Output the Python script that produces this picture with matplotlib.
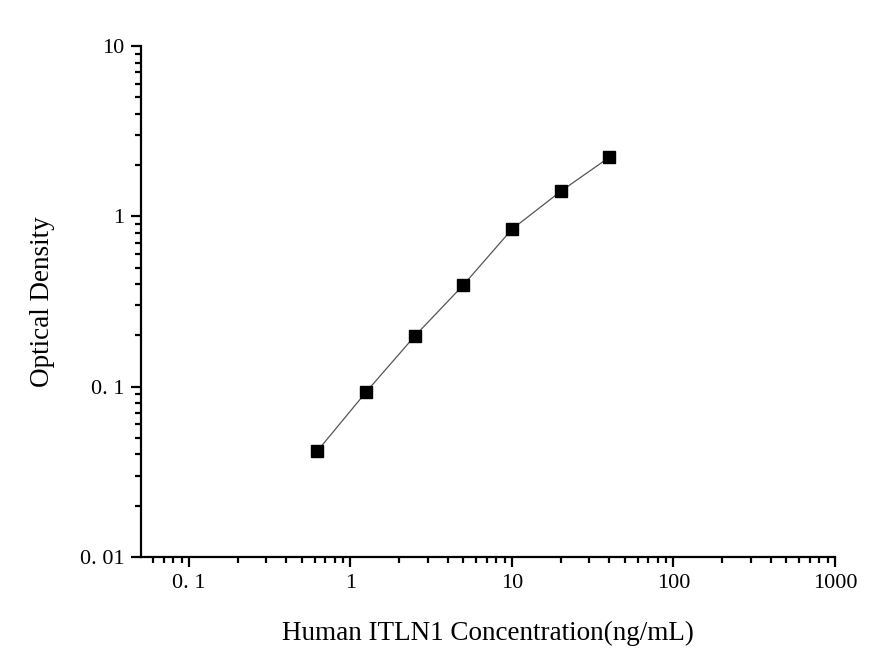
import matplotlib
matplotlib.use("Agg")
import matplotlib.pyplot as plt
from matplotlib.ticker import FixedLocator, FixedFormatter, LogLocator, NullFormatter

# standard curve readings
conc = [0.625, 1.25, 2.5, 5, 10, 20, 40]
od = [0.042, 0.093, 0.198, 0.395, 0.84, 1.40, 2.22]

x_ticks = [0.1, 1, 10, 100, 1000]
x_labels = ["0. 1", "1", "10", "100", "1000"]
y_ticks = [0.01, 0.1, 1, 10]
y_labels = ["0. 01", "0. 1", "1", "10"]

plt.rcParams["font.family"] = ["Liberation Serif", "DejaVu Serif"]

fig = plt.figure(figsize=(8.87, 6.55), dpi=100)
ax = fig.add_axes([141 / 887, 1 - 557 / 655, (835 - 141) / 887, (557 - 46) / 655])

ax.plot(conc, od, color="#555555", lw=0.9, marker="s", ms=8,
        markerfacecolor="black", markeredgecolor="black")

ax.set_xscale("log")
ax.set_yscale("log")
ax.set_xlim(0.0505, 1000)
ax.set_ylim(0.01, 10)

for side in ("top", "right"):
    ax.spines[side].set_visible(False)
for side in ("left", "bottom"):
    ax.spines[side].set_linewidth(1.6)

ax.xaxis.set_major_locator(FixedLocator(x_ticks))
ax.xaxis.set_major_formatter(FixedFormatter(x_labels))
ax.yaxis.set_major_locator(FixedLocator(y_ticks))
ax.yaxis.set_major_formatter(FixedFormatter(y_labels))
ax.xaxis.set_minor_locator(LogLocator(base=10, subs=range(2, 10)))
ax.yaxis.set_minor_locator(LogLocator(base=10, subs=range(2, 10)))
ax.xaxis.set_minor_formatter(NullFormatter())
ax.yaxis.set_minor_formatter(NullFormatter())

ax.tick_params(which="major", direction="out", length=7, width=1.6, labelsize=16, pad=5)
ax.tick_params(which="minor", direction="out", length=4, width=1.6)

ax.set_xlabel("Human ITLN1 Concentration(ng/mL)", fontsize=19.5, labelpad=20)
ax.set_ylabel("Optical Density", fontsize=19.5, labelpad=18)

fig.savefig("out.png", dpi=100)
